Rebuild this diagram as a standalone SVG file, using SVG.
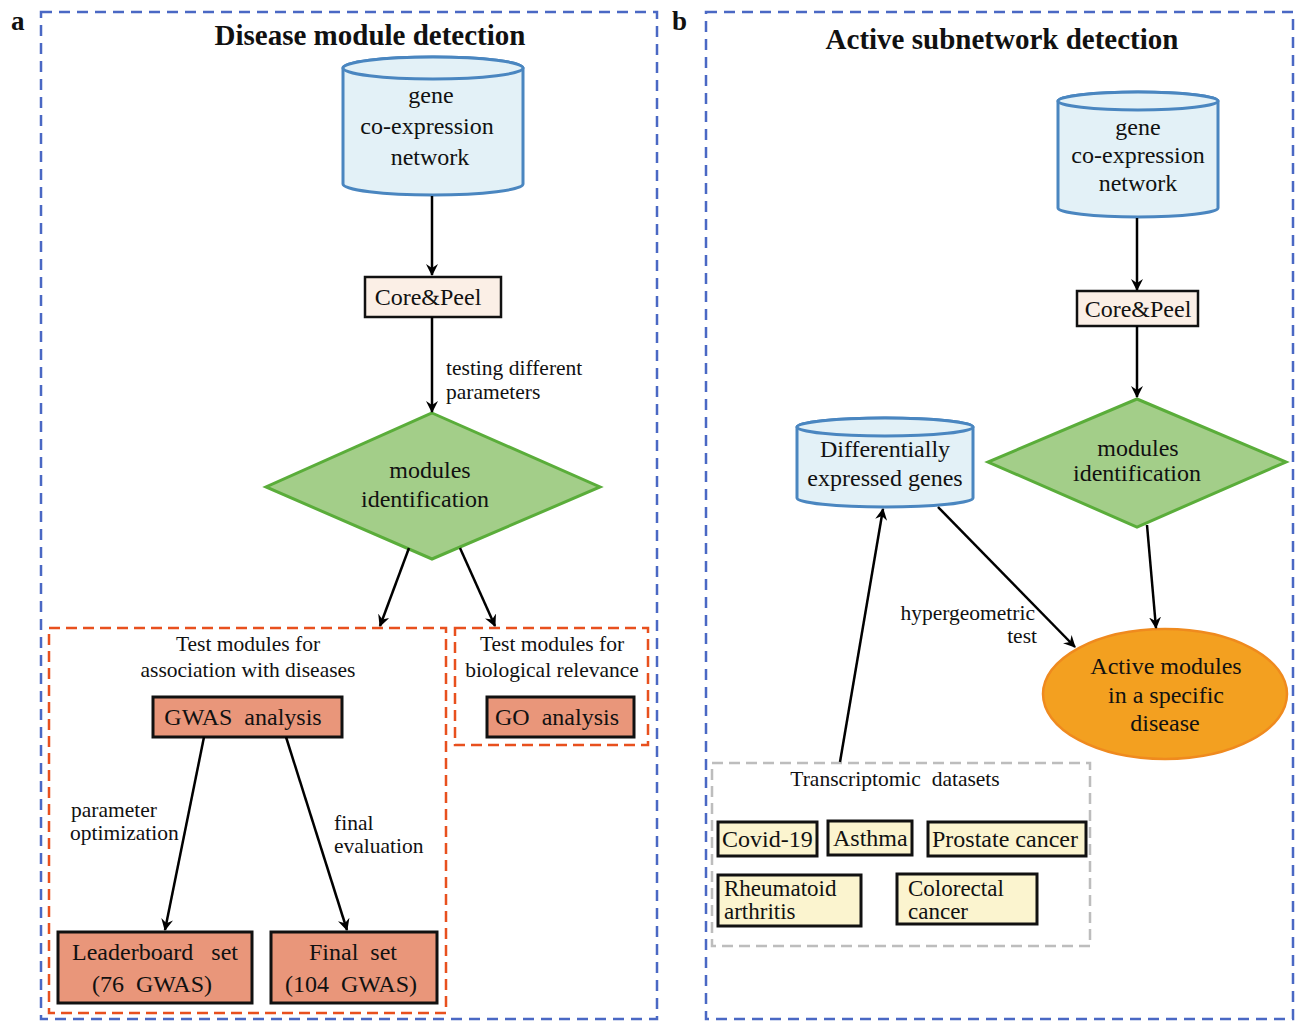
<svg xmlns="http://www.w3.org/2000/svg" width="1298" height="1021" viewBox="0 0 1298 1021">
<defs>
<marker id="ah" markerWidth="12" markerHeight="12" viewBox="0 0 12 12" refX="11" refY="6" orient="auto" markerUnits="userSpaceOnUse">
<path d="M0,0 L12,6 L0,12 L4,6 z" fill="#000"/>
</marker>
<style>
text{font-family:"Liberation Serif","Times New Roman",serif;fill:#111}
.t22{font-size:24px}
.t19{font-size:21.5px}
.t23{font-size:23px}
.mid{text-anchor:middle}
.end{text-anchor:end}
.title{font-size:29px;font-weight:bold}
.lbl{font-size:27px;font-weight:bold}
.panel{fill:none;stroke:#4a68c4;stroke-width:2.5;stroke-dasharray:11,7}
.sub{fill:none;stroke:#e8501e;stroke-width:2.5;stroke-dasharray:11,6}
.gray{fill:none;stroke:#bdbdbd;stroke-width:2.5;stroke-dasharray:11,6}
.cyl{fill:#e3f1f7;stroke:#4a86c0;stroke-width:3}
.proc{fill:#fbefe6;stroke:#111;stroke-width:2.5}
.dia{fill:#a3ce89;stroke:#5aad3a;stroke-width:3}
.sal{fill:#e9967a;stroke:#111;stroke-width:3}
.ds{fill:#fbf4cf;stroke:#111;stroke-width:3}
.ell{fill:#f3a020;stroke:#ef8a1e;stroke-width:2.5}
.conn line{stroke:#000;stroke-width:2.5;marker-end:url(#ah)}
</style>
</defs>

<!-- panels -->
<g id="panel-a">
<rect class="panel" x="41" y="12" width="616" height="1007"/>
<text class="lbl" x="11" y="30">a</text>
<text class="title mid" x="370" y="45">Disease module detection</text>
</g>
<g id="panel-b">
<rect class="panel" x="706" y="12" width="587" height="1007"/>
<text class="lbl" x="672" y="30">b</text>
<text class="title mid" x="1002" y="49">Active subnetwork detection</text>
</g>

<!-- sub groups -->
<g id="group-association">
<rect class="sub" x="49" y="628" width="397" height="385"/>
<text class="t19 mid" x="248" y="651">Test modules for</text>
<text class="t19 mid" x="248" y="677">association with diseases</text>
</g>
<g id="group-biological">
<rect class="sub" x="455" y="628" width="193" height="117"/>
<text class="t19 mid" x="552" y="651">Test modules for</text>
<text class="t19 mid" x="552" y="677">biological relevance</text>
</g>
<g id="group-transcriptomic">
<rect class="gray" x="712" y="763" width="378" height="183"/>
<text class="t19 mid" x="895" y="786" xml:space="preserve">Transcriptomic  datasets</text>
</g>

<!-- left nodes -->
<g id="a-network">
<path class="cyl" d="M343,68 L343,184 A90,11 0 0 0 523,184 L523,68 A90,11 0 0 0 343,68 Z"/>
<ellipse class="cyl" cx="433" cy="68" rx="90" ry="11"/>
<text class="t22 mid" x="431" y="103">gene</text>
<text class="t22 mid" x="427" y="134">co-expression</text>
<text class="t22 mid" x="430" y="165">network</text>
</g>
<g id="a-corepeel">
<rect class="proc" x="365" y="277" width="136" height="40"/>
<text class="t22 mid" x="428" y="305">Core&amp;Peel</text>
</g>
<g id="a-modules">
<polygon class="dia" points="432,413 600,487 432,559 266,487"/>
<text class="t22 mid" x="430" y="478">modules</text>
<text class="t22 mid" x="425" y="507">identification</text>
</g>
<g id="a-gwas">
<rect class="sal" x="153" y="697" width="189" height="40"/>
<text class="t22 mid" x="243" y="725" xml:space="preserve">GWAS  analysis</text>
</g>
<g id="a-go">
<rect class="sal" x="487" y="697" width="147" height="40"/>
<text class="t22 mid" x="557" y="725" xml:space="preserve">GO  analysis</text>
</g>
<g id="a-leaderboard">
<rect class="sal" x="58" y="932" width="194" height="71"/>
<text class="t22 mid" x="155" y="960" xml:space="preserve">Leaderboard   set</text>
<text class="t22 mid" x="152" y="992" xml:space="preserve">(76  GWAS)</text>
</g>
<g id="a-final">
<rect class="sal" x="271" y="932" width="166" height="71"/>
<text class="t22 mid" x="353" y="960" xml:space="preserve">Final  set</text>
<text class="t22 mid" x="351" y="992" xml:space="preserve">(104  GWAS)</text>
</g>

<!-- right nodes -->
<g id="b-network">
<path class="cyl" d="M1058,101 L1058,208 A80,9 0 0 0 1218,208 L1218,101 A80,9 0 0 0 1058,101 Z"/>
<ellipse class="cyl" cx="1138" cy="101" rx="80" ry="9"/>
<text class="t22 mid" x="1138" y="135">gene</text>
<text class="t22 mid" x="1138" y="163">co-expression</text>
<text class="t22 mid" x="1138" y="191">network</text>
</g>
<g id="b-corepeel">
<rect class="proc" x="1077" y="291" width="121" height="35"/>
<text class="t22 mid" x="1138" y="317">Core&amp;Peel</text>
</g>
<g id="b-modules">
<polygon class="dia" points="1137,399 1286,462 1137,527 988,462"/>
<text class="t22 mid" x="1138" y="456">modules</text>
<text class="t22 mid" x="1137" y="481">identification</text>
</g>
<g id="b-deg">
<path class="cyl" d="M797,427 L797,498 A88,9 0 0 0 973,498 L973,427 A88,9 0 0 0 797,427 Z"/>
<ellipse class="cyl" cx="885" cy="427" rx="88" ry="9"/>
<text class="t22 mid" x="885" y="457">Differentially</text>
<text class="t22 mid" x="885" y="486">expressed genes</text>
</g>
<g id="b-active">
<ellipse class="ell" cx="1165" cy="694" rx="122" ry="65"/>
<text class="t22 mid" x="1166" y="674">Active modules</text>
<text class="t22 mid" x="1166" y="703">in a specific</text>
<text class="t22 mid" x="1165" y="731">disease</text>
</g>
<g id="ds-covid">
<rect class="ds" x="718" y="822" width="99" height="34"/>
<text class="t22" x="722" y="847">Covid-19</text>
</g>
<g id="ds-asthma">
<rect class="ds" x="828" y="821" width="84" height="34"/>
<text class="t22" x="833" y="846">Asthma</text>
</g>
<g id="ds-prostate">
<rect class="ds" x="928" y="822" width="158" height="34"/>
<text class="t22" x="932" y="847">Prostate cancer</text>
</g>
<g id="ds-rheumatoid">
<rect class="ds" x="718" y="875" width="143" height="51"/>
<text class="t23" x="724" y="896">Rheumatoid</text>
<text class="t23" x="724" y="919">arthritis</text>
</g>
<g id="ds-colorectal">
<rect class="ds" x="897" y="874" width="140" height="50"/>
<text class="t23" x="908" y="896">Colorectal</text>
<text class="t23" x="908" y="919">cancer</text>
</g>

<!-- connectors -->
<g id="connectors" class="conn">
<line x1="432" y1="196" x2="432" y2="275"/>
<line x1="432" y1="317" x2="432" y2="412"/>
<line x1="409" y1="548" x2="380" y2="626"/>
<line x1="460" y1="548" x2="495" y2="626"/>
<line x1="204" y1="737" x2="165" y2="930"/>
<line x1="286" y1="737" x2="347" y2="930"/>
<line x1="1137" y1="218" x2="1137" y2="290"/>
<line x1="1137" y1="326" x2="1137" y2="397"/>
<line x1="1147" y1="525" x2="1156" y2="628"/>
<line x1="840" y1="762" x2="883" y2="509"/>
<line x1="938" y1="507" x2="1075" y2="647"/>
</g>
<g id="connector-labels">
<text class="t19" x="446" y="375">testing different</text>
<text class="t19" x="446" y="399">parameters</text>
<text class="t19" x="71" y="817">parameter</text>
<text class="t19" x="70" y="840">optimization</text>
<text class="t19" x="334" y="830">final</text>
<text class="t19" x="334" y="853">evaluation</text>
<text class="t19 end" x="1035" y="620">hypergeometric</text>
<text class="t19 end" x="1037" y="643">test</text>
</g>
</svg>
